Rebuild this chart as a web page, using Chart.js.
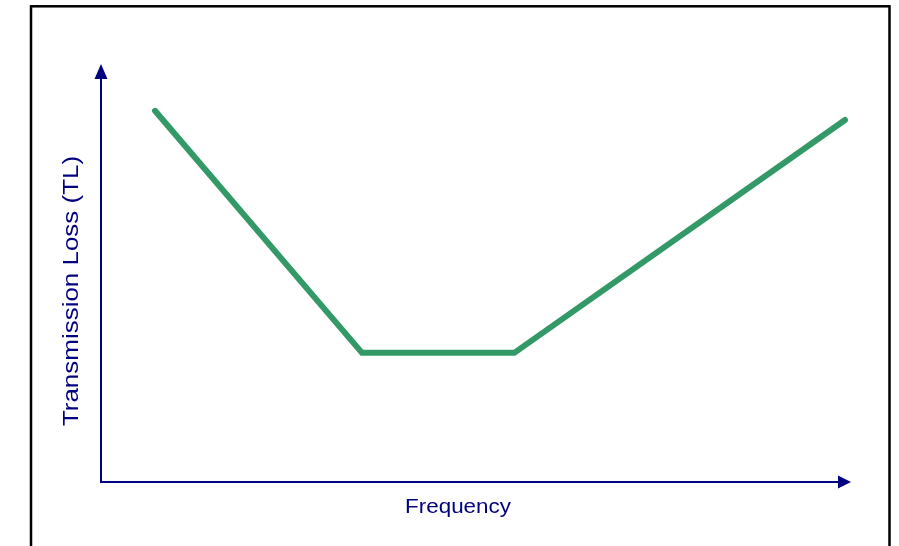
<!DOCTYPE html>
<html>
<head>
<meta charset="utf-8">
<script src="https://cdn.jsdelivr.net/npm/chart.js@4"></script>
<style>
  html, body { margin: 0; padding: 0; background: #fff; }
  canvas { display: block; }
</style>
</head>
<body>
<canvas id="tlChart" width="899" height="546"></canvas>
<script>
// relative units, 0..100 on both axes (no tick labels in the original)
const frequency = [7.2, 34.8, 55.1, 99.2];
const transmissionLoss = [88.8, 30.9, 30.9, 86.6];
const xTitle = 'Frequency';
const yTitle = 'Transmission Loss (TL)';

const navy = '#000080';

const sketchAxes = {
    id: 'sketchAxes',
    beforeDatasetsDraw(chart) {
        const ctx = chart.ctx;
        const a = chart.chartArea;
        ctx.save();
        // outer frame
        ctx.strokeStyle = '#000';
        ctx.lineWidth = 2.5;
        ctx.strokeRect(31, 6.3, 858.5, 560);

        // axes
        ctx.strokeStyle = navy;
        ctx.fillStyle = navy;
        ctx.lineWidth = 2;
        ctx.beginPath();
        ctx.moveTo(a.left, a.top + 12);
        ctx.lineTo(a.left, a.bottom);
        ctx.lineTo(a.right - 12, a.bottom);
        ctx.stroke();
        // arrow heads
        ctx.beginPath();
        ctx.moveTo(a.left, a.top);
        ctx.lineTo(a.left - 6.5, a.top + 15);
        ctx.lineTo(a.left + 6.5, a.top + 15);
        ctx.closePath();
        ctx.fill();
        ctx.beginPath();
        ctx.moveTo(a.right, a.bottom);
        ctx.lineTo(a.right - 13, a.bottom - 6.5);
        ctx.lineTo(a.right - 13, a.bottom + 6.5);
        ctx.closePath();
        ctx.fill();

        // titles
        ctx.font = '20px "Liberation Sans", Arial, sans-serif';
        ctx.textAlign = 'center';
        ctx.textBaseline = 'alphabetic';
        ctx.save();
        ctx.translate(458, 513);
        ctx.scale(1.12, 1);
        ctx.fillText(xTitle, 0, 0);
        ctx.restore();

        ctx.save();
        ctx.font = '22px "Liberation Sans", Arial, sans-serif';
        ctx.translate(78, 291);
        ctx.rotate(-Math.PI / 2);
        ctx.scale(1.18, 1);
        ctx.fillText(yTitle, 0, 0);
        ctx.restore();
        ctx.restore();
    }
};

new Chart(document.getElementById('tlChart'), {
    type: 'line',
    data: {
        datasets: [{
            label: yTitle,
            data: frequency.map((f, i) => ({ x: f, y: transmissionLoss[i] })),
            borderColor: '#339966',
            borderWidth: 6,
            borderCapStyle: 'round',
            borderJoinStyle: 'miter',
            pointRadius: 0,
            tension: 0,
            fill: false
        }]
    },
    options: {
        responsive: false,
        animation: false,
        layout: { padding: { left: 101, right: 48, top: 64, bottom: 64 } },
        plugins: { legend: { display: false }, tooltip: { enabled: false } },
        scales: {
            x: { type: 'linear', min: 0, max: 100, display: false },
            y: { min: 0, max: 100, display: false }
        }
    },
    plugins: [sketchAxes]
});
</script>
</body>
</html>
